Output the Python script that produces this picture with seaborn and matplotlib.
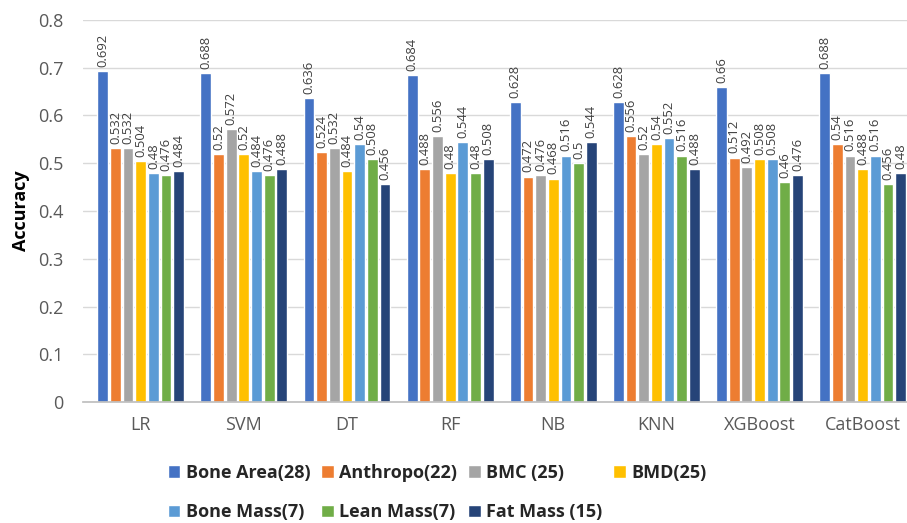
import matplotlib
matplotlib.use("Agg")
import matplotlib.pyplot as plt
import seaborn as sns
import pandas as pd

models = ["LR", "SVM", "DT", "RF", "NB", "KNN", "XGBoost", "CatBoost"]
series = ["Bone Area(28)", "Anthropo(22)", "BMC (25)", "BMD(25)",
          "Bone Mass(7)", "Lean Mass(7)", "Fat Mass (15)"]
bone_area = [0.692, 0.688, 0.636, 0.684, 0.628, 0.628, 0.66, 0.688]
anthropo = [0.532, 0.52, 0.524, 0.488, 0.472, 0.556, 0.512, 0.54]
bmc = [0.532, 0.572, 0.532, 0.556, 0.476, 0.52, 0.492, 0.516]
bmd = [0.504, 0.52, 0.484, 0.48, 0.468, 0.54, 0.508, 0.488]
bone_mass = [0.48, 0.484, 0.54, 0.544, 0.516, 0.552, 0.508, 0.516]
lean_mass = [0.476, 0.476, 0.508, 0.48, 0.5, 0.516, 0.46, 0.456]
fat_mass = [0.484, 0.488, 0.456, 0.508, 0.544, 0.488, 0.476, 0.48]
colors = ["#4472C4", "#ED7D31", "#A5A5A5", "#FFC000", "#5B9BD5", "#70AD47", "#264478"]

all_vals = [bone_area, anthropo, bmc, bmd, bone_mass, lean_mass, fat_mass]
rows = []
for s, vals in zip(series, all_vals):
    for m, v in zip(models, vals):
        rows.append({"Model": m, "Feature": s, "Accuracy": v})
df = pd.DataFrame(rows)

sns.set_theme(style="white")
plt.rcParams['font.family'] = ['Open Sans', 'DejaVu Sans']

fig = plt.figure(figsize=(9.07, 5.23), dpi=100)
ax = fig.add_axes([0.0915, 0.231, 0.9085, 0.731])

sns.barplot(data=df, x="Model", y="Accuracy", hue="Feature", order=models,
            hue_order=series, palette=colors, width=0.86, gap=0.15,
            saturation=1, ax=ax, legend=True)

for cont in ax.containers:
    ax.bar_label(cont, fmt="%g", rotation=90, padding=3, fontsize=9.4,
                 color="#404040")

ax.set_ylim(0, 0.8)
ax.set_xlim(-0.56, 7.43)
ax.set_yticks([0, 0.1, 0.2, 0.3, 0.4, 0.5, 0.6, 0.7, 0.8])
ax.set_yticklabels(["0", "0.1", "0.2", "0.3", "0.4", "0.5", "0.6", "0.7", "0.8"])
ax.yaxis.grid(True, color="#D9D9D9", linewidth=1)
ax.set_axisbelow(True)
for sp in ["top", "right", "left"]:
    ax.spines[sp].set_visible(False)
ax.spines["bottom"].set_color("#BFBFBF")
ax.tick_params(axis="both", labelsize=13, colors="#595959", length=0)
ax.tick_params(axis="y", pad=14)
ax.tick_params(axis="x", pad=10)
ax.set_xlabel("")
ax.set_ylabel("Accuracy", fontsize=13, fontweight="bold", color="black", labelpad=6)

handles, labels = ax.get_legend_handles_labels()
ax.get_legend().remove()
order = [0, 4, 1, 5, 2, 6, 3]
fig.legend([handles[i] for i in order], [labels[i] for i in order],
           loc="center", bbox_to_anchor=(0.482, 0.058), ncol=4, frameon=False,
           prop={"weight": "bold", "size": 13}, handlelength=0.7, handleheight=0.7,
           handletextpad=0.3, columnspacing=0.6, labelspacing=1.2,
           borderpad=0.2)

fig.savefig("out.png", dpi=100)
